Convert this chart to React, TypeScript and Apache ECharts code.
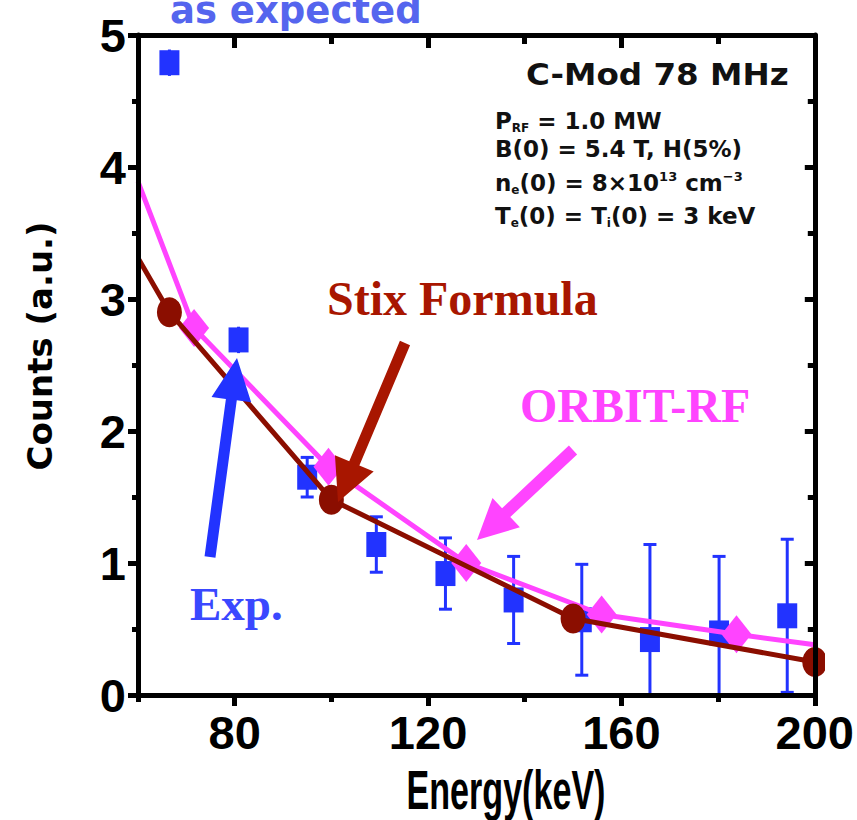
import React, { useEffect, useRef } from "react";
import * as echarts from "echarts";

// ---- Data ----
const expEnergy = [66.5, 80.8, 95.0, 109.3, 123.6, 137.7, 151.8, 165.9, 180.2, 194.3];
const expCounts = [4.79, 2.69, 1.65, 1.14, 0.92, 0.72, 0.57, 0.42, 0.47, 0.6];
const expError = [0.1, 0.1, 0.15, 0.21, 0.27, 0.33, 0.42, 0.72, 0.58, 0.58];

const stixEnergy = [60, 66.5, 100, 150, 200];
const stixCounts = [3.31, 2.9, 1.48, 0.58, 0.25];
const stixMarked = [false, true, true, true, true];

const orbitEnergy = [60, 71.6, 99.4, 127.9, 155.9, 183.8, 200];
const orbitCounts = [3.89, 2.78, 1.73, 1.0, 0.61, 0.46, 0.38];
const orbitMarked = [false, true, true, true, true, true, false];

const xMajorTicks = [80, 120, 160, 200];
const xMinorTicks = [60, 100, 140, 180];
const xTopMajor = [80, 120, 160];
const xTopMinor = [100, 140, 180];

const BLUE = "#2233FF";
const STIX = "#8B0E00";
const STIX_ARROW = "#A81600";
const MAGENTA = "#FF44FF";
const NARROW = "'Liberation Sans Narrow', 'Arial Narrow', 'Liberation Sans', Arial, sans-serif";
const GOTHIC = "'DejaVu Sans', Verdana, sans-serif";
const SERIF = "'Liberation Serif', 'Times New Roman', serif";

function arrow(tail: number[], tip: number[], sw: number, hl: number, hw: number) {
  const dx = tip[0] - tail[0];
  const dy = tip[1] - tail[1];
  const len = Math.hypot(dx, dy);
  const ux = dx / len, uy = dy / len;
  const nx = -uy, ny = ux;
  const bx = tip[0] - ux * hl, by = tip[1] - uy * hl;
  return [
    [tail[0] + nx * sw / 2, tail[1] + ny * sw / 2],
    [bx + nx * sw / 2, by + ny * sw / 2],
    [bx + nx * hw / 2, by + ny * hw / 2],
    [tip[0], tip[1]],
    [bx - nx * hw / 2, by - ny * hw / 2],
    [bx - nx * sw / 2, by - ny * sw / 2],
    [tail[0] - nx * sw / 2, tail[1] - ny * sw / 2],
  ];
}

export default function App() {
  const ref = useRef<HTMLDivElement>(null);
  useEffect(() => {
    const chart = echarts.init(ref.current as HTMLDivElement, null, { renderer: "svg" });

    const tickStyle = { color: "#000", width: 5 };
    const paramRich: any = {
      m: { fontFamily: GOTHIC, fontWeight: "bold", fontSize: 23, lineHeight: 26, verticalAlign: "middle", fill: "#111" },
      s: { fontFamily: GOTHIC, fontWeight: "bold", fontSize: 12, lineHeight: 8, verticalAlign: "bottom", fill: "#111" },
      p: { fontFamily: GOTHIC, fontWeight: "bold", fontSize: 13, lineHeight: 13, verticalAlign: "top", fill: "#111" },
    };
    const paramText = (y: number, text: string) => ({
      type: "text",
      x: 495,
      y,
      z: 20,
      style: { text, rich: paramRich, align: "left", verticalAlign: "middle" },
    });

    const option: any = {
      animation: false,
      backgroundColor: "#fff",
      grid: { left: 138, right: 35, top: 35, bottom: 125, containLabel: false },
      xAxis: [
        {
          type: "value", min: 60, max: 200, interval: 20, position: "bottom", z: 10,
          axisLine: { show: true, lineStyle: tickStyle },
          axisTick: { show: true, customValues: xMajorTicks, length: 11, inside: false, lineStyle: tickStyle },
          axisLabel: {
            show: true, customValues: xMajorTicks, fontFamily: NARROW, fontWeight: "bold",
            fontSize: 47, color: "#000", margin: 14,
          },
          splitLine: { show: false },
        },
        {
          type: "value", min: 60, max: 200, interval: 20, position: "bottom", offset: 0, z: 10,
          axisLine: { show: false },
          axisTick: { show: true, customValues: xMinorTicks, length: 7, inside: false, lineStyle: tickStyle },
          axisLabel: { show: false },
          splitLine: { show: false },
        },
        {
          type: "value", min: 60, max: 200, interval: 20, position: "top", z: 10,
          axisLine: { show: true, lineStyle: tickStyle },
          axisTick: { show: true, customValues: xTopMajor, length: 13, inside: true, lineStyle: tickStyle },
          axisLabel: { show: false },
          splitLine: { show: false },
        },
        {
          type: "value", min: 60, max: 200, interval: 20, position: "top", offset: 0, z: 10,
          axisLine: { show: false },
          axisTick: { show: true, customValues: xTopMinor, length: 9, inside: true, lineStyle: tickStyle },
          axisLabel: { show: false },
          splitLine: { show: false },
        },
      ],
      yAxis: [
        {
          type: "value", min: 0, max: 5, interval: 1, position: "left", z: 10,
          axisLine: { show: true, lineStyle: tickStyle },
          axisTick: { show: true, length: 10, inside: false, lineStyle: tickStyle },
          minorTick: { show: true, splitNumber: 2, length: 6, lineStyle: tickStyle },
          axisLabel: { fontFamily: NARROW, fontWeight: "bold", fontSize: 47, color: "#000", margin: 12 },
          splitLine: { show: false },
        },
        {
          type: "value", min: 0, max: 5, interval: 1, position: "right", z: 10,
          axisLine: { show: true, lineStyle: tickStyle },
          axisTick: { show: true, length: 10, inside: true, lineStyle: tickStyle },
          minorTick: { show: true, splitNumber: 2, length: 7, lineStyle: tickStyle },
          axisLabel: { show: false },
          splitLine: { show: false },
        },
      ],
      series: [
        {
          name: "Exp. error",
          type: "custom",
          xAxisIndex: 0,
          yAxisIndex: 0,
          z: 2,
          data: expEnergy.map((x, i) => [x, expCounts[i], expError[i]]),
          encode: { x: 0, y: 1 },
          renderItem: (params: any, api: any) => {
            const x = api.value(0), y = api.value(1), e = api.value(2);
            const lo = Math.max(y - e, 0);
            const top = api.coord([x, y + e]);
            const bot = api.coord([x, lo]);
            const c = api.coord([x, y]);
            const st = { stroke: BLUE, lineWidth: 3 };
            const children: any[] = [
              { type: "line", shape: { x1: top[0], y1: top[1], x2: bot[0], y2: bot[1] }, style: st },
            ];
            if (c[1] - top[1] > 16)
              children.push({ type: "line", shape: { x1: top[0] - 6.5, y1: top[1], x2: top[0] + 6.5, y2: top[1] }, style: st });
            if (y - e >= 0 && bot[1] - c[1] > 16)
              children.push({ type: "line", shape: { x1: bot[0] - 6.5, y1: bot[1], x2: bot[0] + 6.5, y2: bot[1] }, style: st });
            return { type: "group", children };
          },
        },
        {
          name: "Exp.",
          type: "scatter",
          z: 3,
          symbol: "rect",
          symbolSize: [20, 25],
          itemStyle: { color: BLUE, opacity: 1 },
          data: expEnergy.map((x, i) => [x, expCounts[i]]),
        },
        {
          name: "ORBIT-RF",
          type: "line",
          z: 4,
          lineStyle: { color: MAGENTA, width: 5 },
          itemStyle: { color: MAGENTA, opacity: 1 },
          symbol: "diamond",
          symbolSize: [30, 38],
          showAllSymbol: true,
          data: orbitEnergy.map((x, i) =>
            orbitMarked[i] ? { value: [x, orbitCounts[i]] } : { value: [x, orbitCounts[i]], symbol: "none" }
          ),
        },
        {
          name: "Stix Formula",
          type: "line",
          z: 5,
          lineStyle: { color: STIX, width: 5 },
          itemStyle: { color: STIX, opacity: 1 },
          symbol: "circle",
          symbolSize: [25, 30],
          showAllSymbol: true,
          data: stixEnergy.map((x, i) =>
            stixMarked[i] ? { value: [x, stixCounts[i]] } : { value: [x, stixCounts[i]], symbol: "none" }
          ),
        },
      ],
      graphic: [
        { type: "rect", z: 8, shape: { x: 825, y: 0, width: 40, height: 690 }, style: { fill: "#fff" } },
        { type: "polygon", z: 20, shape: { points: arrow([210, 557], [237, 358], 11, 42, 40) }, style: { fill: BLUE } },
        { type: "polygon", z: 20, shape: { points: arrow([405, 343], [338, 502], 11, 42, 42) }, style: { fill: STIX_ARROW } },
        { type: "polygon", z: 20, shape: { points: arrow([573, 450], [477, 540], 12, 40, 40) }, style: { fill: MAGENTA } },
        {
          type: "text", x: 170, y: 10, z: 20,
          style: { text: "as expected", fontFamily: GOTHIC, fontWeight: "bold", fontSize: 37, fill: "#5565EE", align: "left", verticalAlign: "middle" },
        },
        {
          type: "text", x: 526, y: 74, z: 20, scaleX: 1.05,
          style: { text: "C-Mod 78 MHz", fontFamily: GOTHIC, fontWeight: "bold", fontSize: 31, fill: "#111", align: "left", verticalAlign: "middle" },
        },
        paramText(121, "{m|P}{s|RF}{m| = 1.0 MW}"),
        paramText(149, "{m|B(0) = 5.4 T, H(5%)}"),
        paramText(183, "{m|n}{s|e}{m|(0) = 8×10}{p|13}{m| cm}{p|−3}"),
        paramText(216, "{m|T}{s|e}{m|(0) = T}{s|i}{m|(0) = 3 keV}"),
        {
          type: "text", x: 327, y: 298, z: 20,
          style: { text: "Stix Formula", fontFamily: SERIF, fontWeight: "bold", fontSize: 48, fill: STIX_ARROW, align: "left", verticalAlign: "middle" },
        },
        {
          type: "text", x: 520, y: 405, z: 20,
          style: { text: "ORBIT-RF", fontFamily: SERIF, fontWeight: "bold", fontSize: 48, fill: MAGENTA, align: "left", verticalAlign: "middle" },
        },
        {
          type: "text", x: 190, y: 604, z: 20,
          style: { text: "Exp.", fontFamily: SERIF, fontWeight: "bold", fontSize: 47, fill: "#3A48FF", align: "left", verticalAlign: "middle" },
        },
        {
          type: "text", x: 40, y: 346, z: 20, rotation: Math.PI / 2,
          style: { text: "Counts (a.u.)", fontFamily: GOTHIC, fontWeight: "bold", fontSize: 34, fill: "#000", align: "center", verticalAlign: "middle" },
        },
        {
          type: "text", x: 506, y: 790, z: 20, scaleX: 0.62,
          style: { text: "Energy(keV)", fontFamily: "'Liberation Sans', Arial, sans-serif", fontWeight: "bold", fontSize: 55, fill: "#000", align: "center", verticalAlign: "middle" },
        },
      ],
    };
    chart.setOption(option);
    return () => chart.dispose();
  }, []);
  return <div ref={ref} style={{ position: "absolute", left: 0, top: 0, width: 857, height: 820 }} />;
}
